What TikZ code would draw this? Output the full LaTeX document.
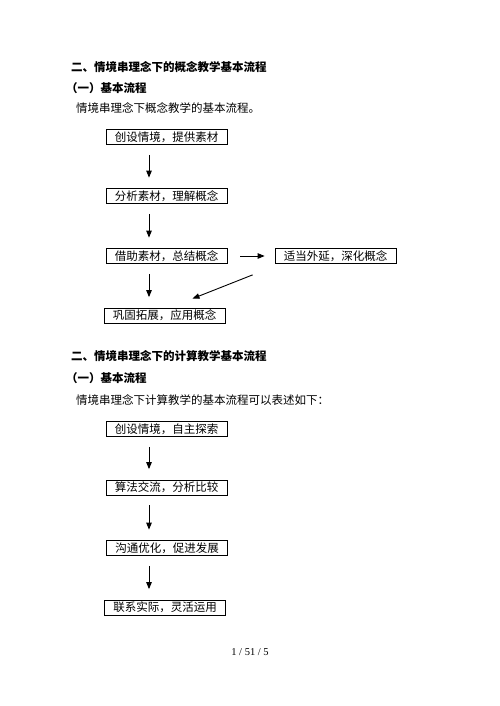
\documentclass[tikz,border=0pt]{standalone}
\usepackage{fontspec}
\setmainfont{Liberation Serif}
\newfontfamily\cjk{Noto Sans CJK SC}
\usetikzlibrary{arrows.meta}
\begin{document}
\begin{tikzpicture}[x=1pt,y=-1pt,
  box/.style={draw,line width=0.75pt,minimum width=121pt,minimum height=15pt,inner sep=0pt,font=\cjk\fontsize{11.5}{12}\selectfont},
  arr/.style={-{Triangle[length=7pt,width=5.5pt]},line width=0.9pt,shorten <=10pt,shorten >=10.5pt},
  txt/.style={anchor=west,inner sep=0pt,font=\cjk\fontsize{11.5}{12}\selectfont},
  head/.style={anchor=west,inner sep=0pt,font=\cjk\bfseries\fontsize{11.5}{12}\selectfont}]
\useasboundingbox[fill=white] (0,0) rectangle (500,706);
\coordinate (ax) at (149,0);
% section 1
\node[head] (t1) at (71,67) {二、情境串理念下的概念教学基本流程};
\node[head] (s1) at (66,88) {（一）基本流程};
\node[txt] (p1) at (76,108) {情境串理念下概念教学的基本流程。};
\node[box] (a1) at (166.5,137) {创设情境，提供素材};
\node[box] (a2) at (166.5,196) {分析素材，理解概念};
\node[box] (a3) at (166.5,256) {借助素材，总结概念};
\node[box] (a4) at (335.5,256) {适当外延，深化概念};
\node[box] (a5) at (164.5,315.5) {巩固拓展，应用概念};
\draw[arr] (a1.south -| ax) -- (a2.north -| ax);
\draw[arr] (a2.south -| ax) -- (a3.north -| ax);
\draw[arr] (a3.south -| ax) -- (a5.north -| ax);
\draw[arr,shorten <=13pt,shorten >=10pt] (a3.east) -- (a4.west);
\draw[arr,shorten <=0pt,shorten >=0pt] ([xshift=-22pt,yshift=-11pt]a4.south west) -- ([xshift=28pt,yshift=9pt]a5.north);
% section 2
\node[head] (t2) at (71,356) {二、情境串理念下的计算教学基本流程};
\node[head] (s2) at (66,378) {（一）基本流程};
\node[txt] (p2) at (76,400) {情境串理念下计算教学的基本流程可以表述如下：};
\node[box] (b1) at (166.5,429) {创设情境，自主探索};
\node[box] (b2) at (166.5,487.5) {算法交流，分析比较};
\node[box] (b3) at (167,548) {沟通优化，促进发展};
\node[box] (b4) at (165,607.5) {联系实际，灵活运用};
\draw[arr] (b1.south -| ax) -- (b2.north -| ax);
\draw[arr] (b2.south -| ax) -- (b3.north -| ax);
\draw[arr] (b3.south -| ax) -- (b4.north -| ax);
% page number
\node[font=\fontsize{10.5}{12}\selectfont,inner sep=0pt] (pg) at (250,652) {1 / 51 / 5};
\end{tikzpicture}
\end{document}
